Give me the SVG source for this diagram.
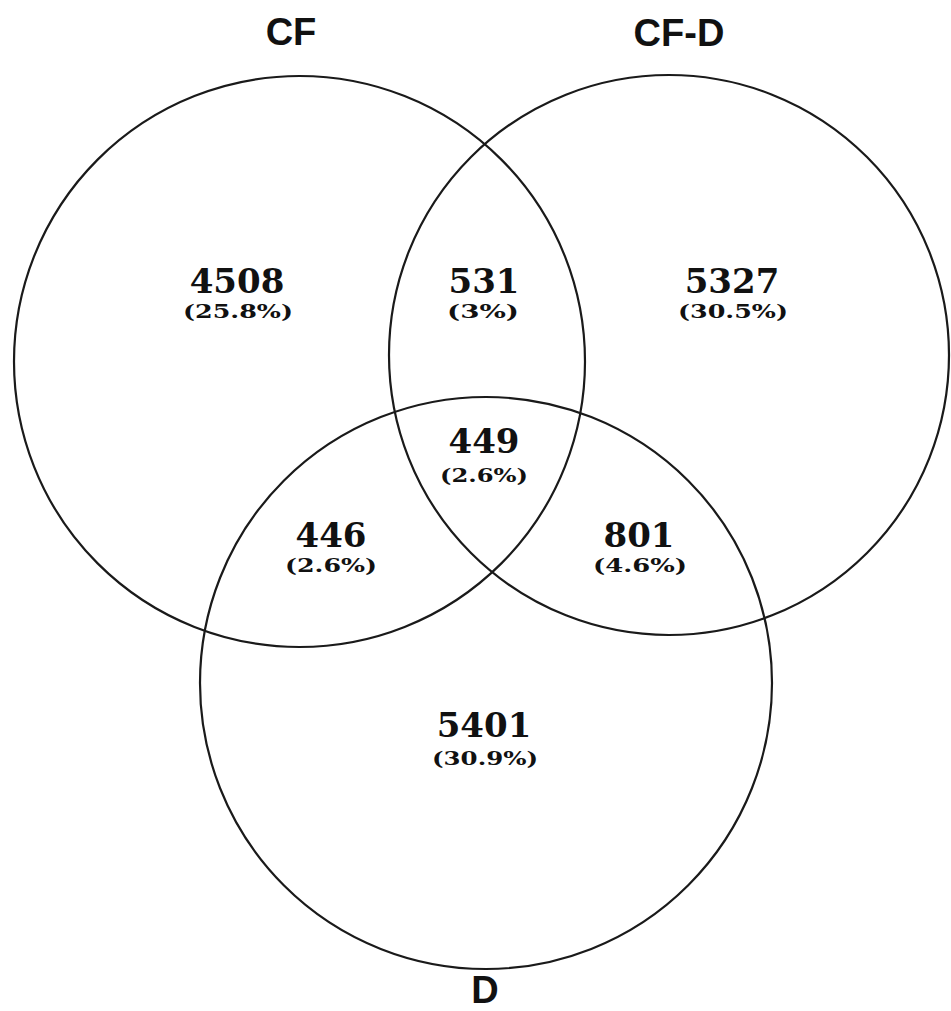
<svg xmlns="http://www.w3.org/2000/svg" width="951" height="1011" viewBox="0 0 951 1011">
<style>
.c{fill:none;stroke:#1a1a1a;stroke-width:2.2}
.lab{font-family:"Liberation Sans",Arial,sans-serif;font-weight:bold;font-size:38px;fill:#111;text-anchor:middle}
.n{font-family:"DejaVu Serif",serif;font-weight:bold;font-size:34px;fill:#111;text-anchor:middle}
.p{font-family:"DejaVu Serif",serif;font-weight:bold;font-size:19px;fill:#111;text-anchor:middle}
</style>
<rect width="951" height="1011" fill="#fff"/>
<g id="sets">
<g id="CF"><circle class="c" cx="299.5" cy="361.5" r="285.5"/><text class="lab" x="291" y="45">CF</text></g>
<g id="CF-D"><circle class="c" cx="669" cy="355" r="280"/><text class="lab" x="679" y="46">CF-D</text></g>
<g id="D"><circle class="c" cx="486" cy="683" r="286"/><text class="lab" x="485" y="1003">D</text></g>
</g>
<g id="regions">
<g id="r-cf"><text class="n" x="237" y="293">4508</text><text class="p" x="238" y="318" textLength="110" lengthAdjust="spacingAndGlyphs">(25.8%)</text></g>
<g id="r-cf-cfd"><text class="n" x="484" y="293">531</text><text class="p" x="483" y="318" textLength="72" lengthAdjust="spacingAndGlyphs">(3%)</text></g>
<g id="r-cfd"><text class="n" x="732" y="293">5327</text><text class="p" x="733" y="318" textLength="110" lengthAdjust="spacingAndGlyphs">(30.5%)</text></g>
<g id="r-all"><text class="n" x="484" y="453">449</text><text class="p" x="484" y="482" textLength="88" lengthAdjust="spacingAndGlyphs">(2.6%)</text></g>
<g id="r-cf-d"><text class="n" x="331" y="547">446</text><text class="p" x="331" y="572" textLength="92" lengthAdjust="spacingAndGlyphs">(2.6%)</text></g>
<g id="r-cfd-d"><text class="n" x="639" y="547">801</text><text class="p" x="640" y="572" textLength="94" lengthAdjust="spacingAndGlyphs">(4.6%)</text></g>
<g id="r-d"><text class="n" x="484" y="737">5401</text><text class="p" x="485" y="765" textLength="106" lengthAdjust="spacingAndGlyphs">(30.9%)</text></g>
</g>
<g id="connectors"/>
</svg>
